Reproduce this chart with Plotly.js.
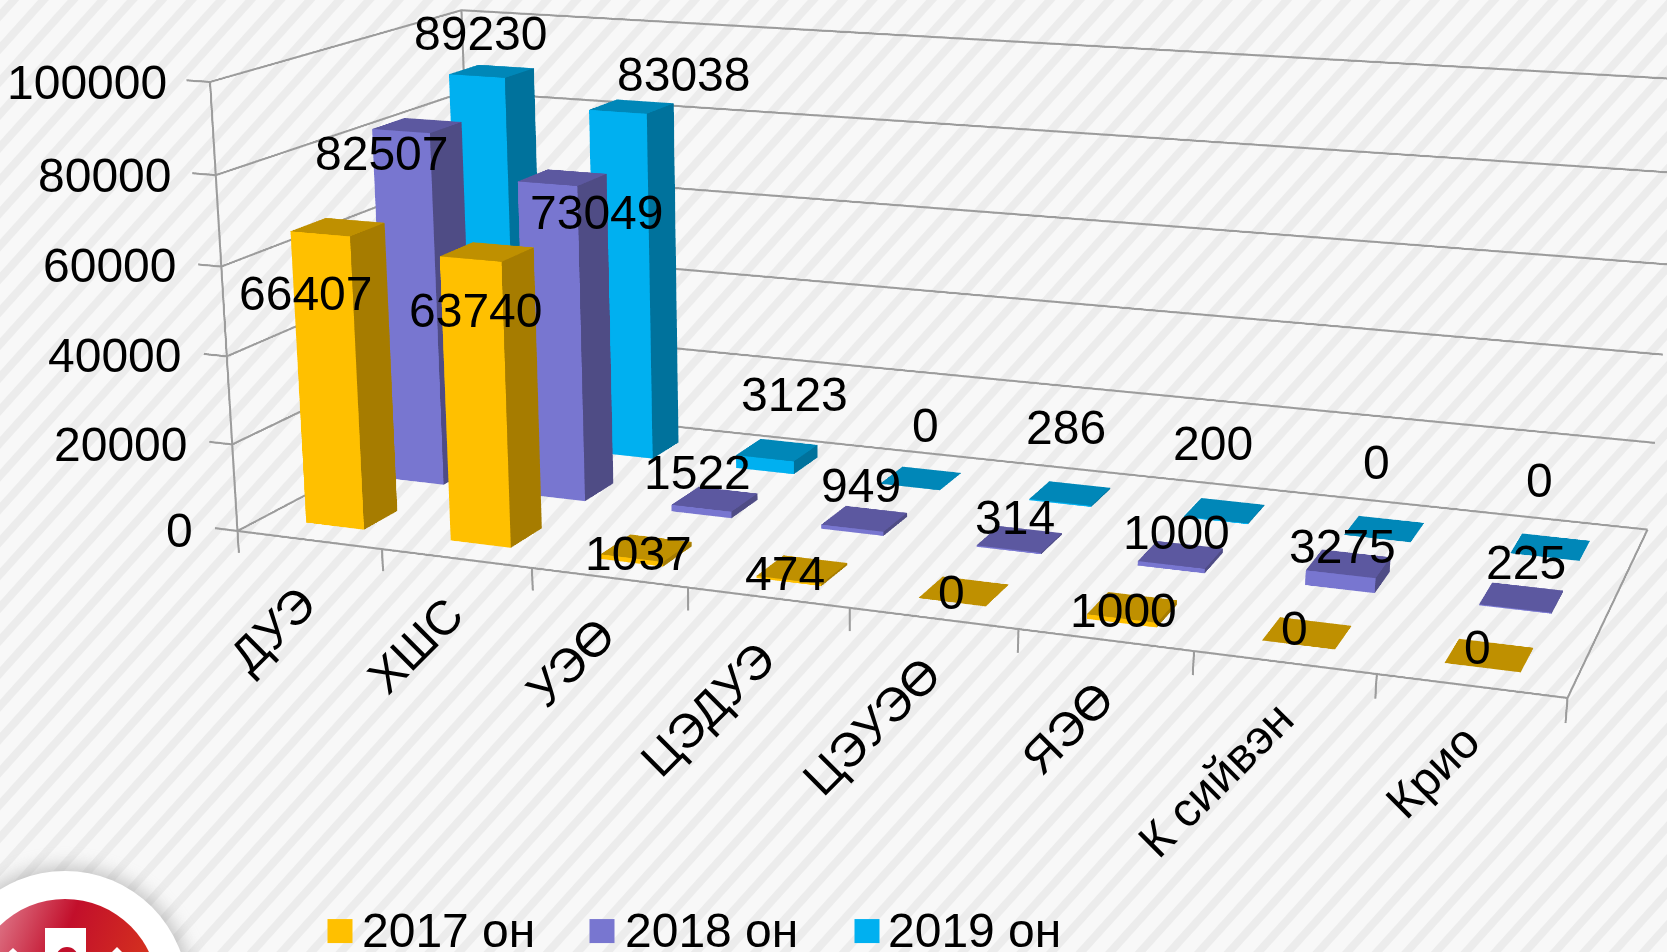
<!DOCTYPE html>
<html><head><meta charset="utf-8">
<script src="https://cdn.plot.ly/plotly-3.0.1.min.js"></script>
<style>
html,body{margin:0;padding:0;width:1667px;height:952px;overflow:hidden;background:#f8f8f8}
#bg{position:absolute;left:0;top:0;width:1667px;height:952px;background:repeating-linear-gradient(-48deg,#f8f8f8 0,#f8f8f8 13px,#ececec 14px,#ececec 21px,#f8f8f8 22px)}
#logo{position:absolute;left:0;top:0}
#chart{position:absolute;left:-905.5px;top:-710.75px;width:3400px;height:2605.5px}
</style></head><body><div id="bg"></div>
<svg id="logo" width="1667" height="952"><defs>
<linearGradient id="rg" x1="0" y1="0" x2="1" y2="0.4"><stop offset="0" stop-color="#eaa0ae"/><stop offset=".5" stop-color="#c20f2b"/><stop offset="1" stop-color="#d8371c"/></linearGradient>
<filter id="bl" x="-30%" y="-30%" width="160%" height="160%"><feGaussianBlur stdDeviation="9"/></filter></defs>
<circle cx="65" cy="994" r="128" fill="#999" opacity=".55" filter="url(#bl)"/>
<circle cx="65" cy="994" r="123" fill="#fff"/><circle cx="65" cy="992" r="93" fill="url(#rg)"/>
<rect x="45" y="928" width="41" height="24" fill="#fff"/><circle cx="67" cy="958" r="11" fill="#c20f2b"/>
<polygon points="0,960 13,948 26,960" fill="#fff"/><polygon points="104,960 117,947 130,960" fill="#fff"/>
</svg>
<div id="chart"></div>
<script>
const categories=['ДУЭ','ХШС','УЭӨ','ЦЭДУЭ','ЦЭУЭӨ','ЯЭӨ','К сийвэн','Крио'];
const seriesNames=['2017 он','2018 он','2019 он'];
const values2017=[66407,63740,1037,474,0,1000,0,0];
const values2018=[82507,73049,1522,949,314,1000,3275,225];
const values2019=[89230,83038,3123,0,286,200,0,0];
const zTicks=[0,20000,40000,60000,80000,100000];

const LEFT=-905.5,TOP=-710.75,W=3400,H=2605.5,S=1667/1568;
const page=(x,y)=>({x:(x-LEFT)/W,y:1-(y-TOP)/H,xref:'paper',yref:'paper'});
const shades=[['#FFC000','#A67C00','#BF9000'],['#7876D0','#4F4C85','#5C58A0'],['#00B0F0','#00729C','#0087B8']];
const BW=0.405,BD=0.4,XLEN=8,YLEN=3,ZLEN=100000;
const XR=[-.16,XLEN+.03],YR=[0,YLEN+.03],ZR=[-6000,ZLEN+800];
function barsTrace(vals,row,name){
  const x=[],y=[],z=[],i=[],j=[],k=[],fc=[];
  vals.forEach((v,c)=>{
    const yc=row*.985+.49;
    const x0=c+.505-BW/2,x1=c+.505+BW/2,y0=yc-BD/2,y1=yc+BD/2,b=x.length;
    [[x0,y0,0],[x1,y0,0],[x1,y1,0],[x0,y1,0],[x0,y0,v],[x1,y0,v],[x1,y1,v],[x0,y1,v]].forEach(p=>{x.push(p[0]);y.push(p[1]);z.push(p[2]);});
    [[0,1,5,0],[0,5,4,0],[1,2,6,1],[1,6,5,1],[4,5,6,2],[4,6,7,2]].forEach(f=>{i.push(b+f[0]);j.push(b+f[1]);k.push(b+f[2]);fc.push(shades[row][f[3]]);});
  });
  return {type:'mesh3d',name,x,y,z,i,j,k,facecolor:fc,flatshading:true,hoverinfo:'skip',
    lighting:{ambient:1,diffuse:0,specular:0,fresnel:0,roughness:1},showscale:false};
}
// frame lines
const lx=[],ly=[],lz=[];
const seg=pts=>{pts.forEach(p=>{lx.push(p[0]);ly.push(p[1]);lz.push(p[2]);});lx.push(null);ly.push(null);lz.push(null);};
zTicks.forEach(t=>{seg([[0,0,t],[0,YLEN,t],[XLEN,YLEN,t]]);seg([[XR[0],0,t],[0,0,t]]);});
seg([[0,0,0],[0,0,ZLEN]]);seg([[0,YLEN,0],[0,YLEN,ZLEN]]);
seg([[0,0,0],[XLEN,0,0],[XLEN,YLEN,0]]);
for(let c=0;c<=categories.length;c++)seg([[c,0,ZR[0]*.85],[c,0,0]]);
const frame={type:'scatter3d',mode:'lines',x:lx,y:ly,z:lz,line:{color:'#9c9c9c',width:4},hoverinfo:'skip',showlegend:false,connectgaps:false};
const data=[frame,barsTrace(values2017,0,seriesNames[0]),barsTrace(values2018,1,seriesNames[1]),barsTrace(values2019,2,seriesNames[2])];
// camera solved from the picture's vanishing points
const a0={x:.41653,y:.16450,z:.14279};
const span=r=>r[1]-r[0],mid=r=>(r[0]+r[1])/2;
const ar={x:a0.x*span(XR)/XLEN,y:a0.y*span(YR)/YLEN,z:a0.z*span(ZR)/ZLEN};
const off={x:(mid(XR)-XLEN/2)/XLEN*a0.x,y:(mid(YR)-YLEN/2)/YLEN*a0.y,z:(mid(ZR)-ZLEN/2)/ZLEN*a0.z};
const eye0={x:.31082,y:-.90297,z:.22683},cen0={x:-.03315,y:-.04285,z:-.08276};
const eye={x:eye0.x-off.x,y:eye0.y-off.y,z:eye0.z-off.z},center={x:cen0.x-off.x,y:cen0.y-off.y,z:cen0.z-off.z};

const font={family:'"Liberation Sans",Arial,sans-serif',size:48,color:'#000'};
const txt=(t,sx,sy,o={})=>({...page(sx*S-1,sy*S),text:String(t),showarrow:false,font,xanchor:'center',yanchor:'middle',...o});
const annotations=[];
const zLabelPos=[[184,499],[178,418],[173,334],[168,250],[163,165],[159,78]];
zTicks.forEach((t,i)=>annotations.push(txt(t,zLabelPos[i][0],zLabelPos[i][1],{xanchor:'right'})));
const catLabelPos=[[257,592],[391,607],[537,623],[666,667],[820,683],[1005,684],[1144,733],[1348,726]];
categories.forEach((c,i)=>annotations.push(txt(c,catLabelPos[i][0],catLabelPos[i][1],{textangle:-45})));
const labelPos2017=[[288,276],[448,292],[601,521],[739,539],[895,557],[1057,574],[1218,591],[1390,609]];
const labelPos2018=[[359,144],[562,200],[657,444],[810,457],[955,487],[1107,501],[1263,514],[1436,529]];
const labelPos2019=[[452,32],[643,70],[748,371],[871,400],[1003,402],[1141,417],[1295,435],[1449,452]];
[[values2017,labelPos2017],[values2018,labelPos2018],[values2019,labelPos2019]].forEach(([v,p])=>v.forEach((n,i)=>annotations.push(txt(n,p[i][0],p[i][1]))));
// legend
const legendSw=[327,589,854],legendTx=[359,622,886];
const shapes=[];
seriesNames.forEach((n,i)=>{
  const a=page(legendSw[i],919),b=page(legendSw[i]+25,943);
  shapes.push({type:'rect',xref:'paper',yref:'paper',x0:a.x,y0:a.y,x1:b.x,y1:b.y,fillcolor:shades[i][0],line:{width:0}});
  annotations.push({...page(legendTx[i],930),text:n,showarrow:false,font,xanchor:'left',yanchor:'middle'});
});
const ax={visible:false,showspikes:false};
const layout={width:W,height:H,margin:{l:0,r:0,t:0,b:0},paper_bgcolor:'rgba(0,0,0,0)',plot_bgcolor:'rgba(0,0,0,0)',showlegend:false,annotations,shapes,
 scene:{domain:{x:[0,1],y:[0,1]},bgcolor:'rgba(0,0,0,0)',aspectmode:'manual',aspectratio:ar,dragmode:false,
  camera:{eye,center,up:{x:-.1156,y:.2952,z:.9484},projection:{type:'perspective'}},
  xaxis:{...ax,range:XR},yaxis:{...ax,range:YR},zaxis:{...ax,range:ZR}}};
Plotly.newPlot('chart',data,layout,{displayModeBar:false});
</script></body></html>
